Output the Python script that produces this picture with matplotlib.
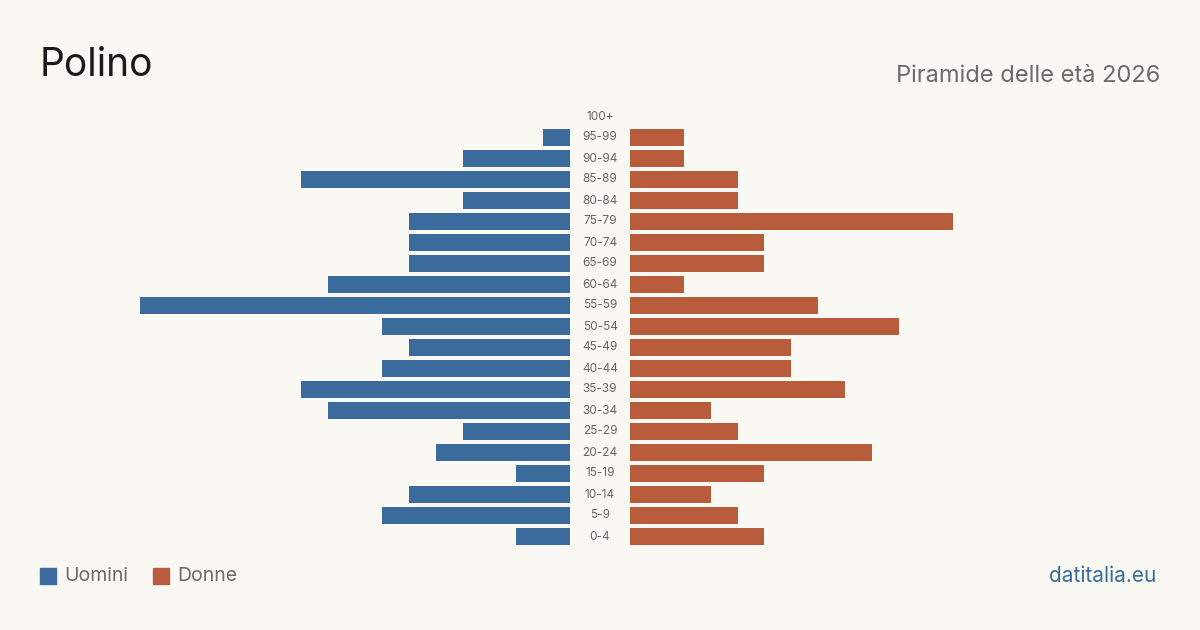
import matplotlib
matplotlib.use("Agg")
import matplotlib.pyplot as plt

age_groups = ["0-4", "5-9", "10-14", "15-19", "20-24", "25-29", "30-34", "35-39",
              "40-44", "45-49", "50-54", "55-59", "60-64", "65-69", "70-74", "75-79",
              "80-84", "85-89", "90-94", "95-99", "100+"]
men = [2, 7, 6, 2, 5, 4, 9, 10, 7, 6, 7, 16, 9, 6, 6, 6, 4, 10, 4, 1, 0]
women = [5, 4, 3, 5, 9, 4, 3, 8, 6, 6, 10, 7, 2, 5, 5, 12, 4, 4, 2, 2, 0]

title = "Polino"
subtitle = "Piramide delle età 2026"
source = "datitalia.eu"
legend_labels = ["Uomini", "Donne"]

BG = "#f9f8f3"
BLUE = "#3a6b9c"
ORANGE = "#b95c3c"

plt.rcParams['font.family'] = ['Inter', 'DejaVu Sans']

W, H = 1200, 630
fig = plt.figure(figsize=(12, 6.3), dpi=100, facecolor=BG)
ax = fig.add_axes([0, 0, 1, 1])
ax.set_facecolor(BG)

unit = 26.875  # px per person
gap = 30 / unit
row = 21.0
y0 = 536.5
ax.set_xlim(-600 / unit, 600 / unit)
ax.set_ylim((y0 - 630) / row, y0 / row)
ax.axis("off")

ys = list(range(len(age_groups)))
h = 17 / row
ax.barh(ys, [-m for m in men], left=-gap, height=h, color=BLUE)
ax.barh(ys, women, left=gap, height=h, color=ORANGE)
for y, lab in zip(ys, age_groups):
    ax.text(0, y, lab, ha="center", va="center", fontsize=8.5, color="#666666")

fig.text(40 / W, 1 - 66 / H, title, fontsize=28, color="#1a1a1a", va="center", ha="left")
fig.text(1160 / W, 1 - 76 / H, subtitle, fontsize=17, color="#6b6b6b", va="center", ha="right")
fig.text(1156 / W, 1 - 576 / H, source, fontsize=15, color=BLUE, va="center", ha="right")

# legend
for x0, col, lab in [(40, BLUE, legend_labels[0]), (153, ORANGE, legend_labels[1])]:
    fig.patches.append(plt.Rectangle((x0 / W, 1 - 584 / H), 16 / W, 16 / H,
                                     transform=fig.transFigure, color=col))
    fig.text((x0 + 24) / W, 1 - 576 / H, lab, fontsize=14, color="#6b6b6b",
             va="center", ha="left")

fig.savefig("out.png", dpi=100, facecolor=BG)
